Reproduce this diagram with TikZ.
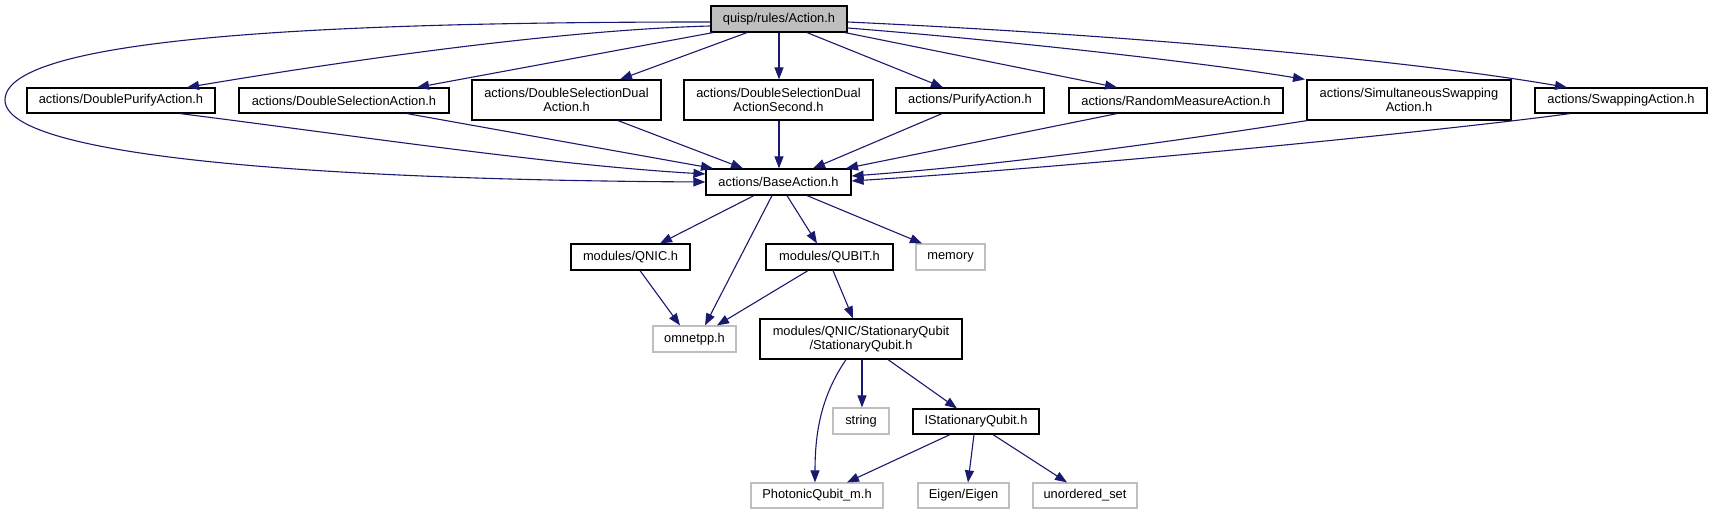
\documentclass[tikz,border=0pt]{standalone}
\usepackage{fontspec}
\setmainfont{Liberation Sans}
\usetikzlibrary{arrows.meta}
\definecolor{edgeblue}{HTML}{191970}
\definecolor{extgray}{HTML}{BFBFBF}
\begin{document}
\begin{tikzpicture}[x=1bp,y=-1bp,
  box/.style={draw=black,line width=1.2bp,rectangle,inner sep=0pt,align=center,
    font=\fontsize{12.9}{14.5}\selectfont},
  extbox/.style={box,draw=extgray},
  wh/.style 2 args={minimum width=#1bp,minimum height=#2bp},
  edge/.style={draw=edgeblue,line width=1.1bp,-{Triangle[length=12bp,width=9bp]}}]
\useasboundingbox[fill=white] (0,0) rectangle (1713,515);
% nodes
\node[box,fill=extgray,wh={136}{26}] (act) at (779,19) {quisp/rules/Action.h};
\node[box,wh={188}{25}] (dpa) at (121,100.5) {actions/DoublePurifyAction.h};
\node[box,wh={210}{25}] (dsa) at (344,100.5) {actions/DoubleSelectionAction.h};
\node[box,wh={189}{40}] (dsda) at (566.5,100) {actions/DoubleSelectionDual\\Action.h};
\node[box,wh={189}{40}] (dsdas) at (778.5,100) {actions/DoubleSelectionDual\\ActionSecond.h};
\node[box,wh={148}{25}] (pur) at (970,100.5) {actions/PurifyAction.h};
\node[box,wh={214}{25}] (rnd) at (1176,100.5) {actions/RandomMeasureAction.h};
\node[box,wh={204}{40}] (sim) at (1409,100) {actions/SimultaneousSwapping\\Action.h};
\node[box,wh={172}{25}] (swp) at (1621,100.5) {actions/SwappingAction.h};
\node[box,wh={145}{26}] (base) at (778.5,182) {actions/BaseAction.h};
\node[box,wh={119}{26}] (qnic) at (630.5,257) {modules/QNIC.h};
\node[box,wh={127}{26}] (qubit) at (829.5,257) {modules/QUBIT.h};
\node[extbox,wh={69}{26}] (mem) at (950.5,257) {memory};
\node[extbox,wh={83}{26}] (omn) at (694.5,339) {omnetpp.h};
\node[box,wh={202}{40}] (sq) at (861,339) {modules/QNIC/StationaryQubit\\/StationaryQubit.h};
\node[extbox,wh={56}{26}] (str) at (861,421) {string};
\node[box,wh={126}{25}] (isq) at (976,421.5) {IStationaryQubit.h};
\node[extbox,wh={132}{25}] (pho) at (817,495.5) {PhotonicQubit\_m.h};
\node[extbox,wh={91}{25}] (eig) at (963.5,495.5) {Eigen/Eigen};
\node[extbox,wh={104}{25}] (uns) at (1085,495.5) {unordered\_set};
% edges from Action.h
\draw[edge] (act.west |- 0,22) .. controls (350,22) and (5,35) .. (5,100)
   .. controls (5,160) and (350,180) .. (base.west |- 0,182);
\draw[edge] (act.west |- 0,26) .. controls (560,30) and (350,60) .. (dpa.north -| 187,0);
\draw[edge] (act.south -| 713,0) -- (dsa.north -| 417,0);
\draw[edge] (act.south -| 747,0) -- (dsda.north -| 620,0);
\draw[edge] (act.south -| 779,0) -- (dsdas.north -| 779,0);
\draw[edge] (act.south -| 807,0) -- (pur.north -| 943,0);
\draw[edge] (act.south -| 845,0) -- (rnd.north -| 1117,0);
\draw[edge] (act.east |- 0,28) .. controls (1000,40) and (1200,62) .. (sim.north -| 1305,0);
\draw[edge] (act.east |- 0,22) .. controls (1150,36) and (1420,62) .. (swp.north -| 1567,0);
% edges to BaseAction
\draw[edge] (dpa.south -| 180,0) .. controls (350,135) and (550,165) .. (base.west |- 0,174);
\draw[edge] (dsa.south -| 407,0) -- (base.north -| 713,0);
\draw[edge] (dsda.south -| 618,0) -- (base.north -| 743,0);
\draw[edge] (dsdas.south -| 779,0) -- (base.north -| 779,0);
\draw[edge] (pur.south -| 942,0) -- (base.north -| 813,0);
\draw[edge] (rnd.south -| 1117,0) -- (base.north -| 846,0);
\draw[edge] (sim.south -| 1307,0) .. controls (1150,145) and (1000,165) .. (base.east |- 0,176);
\draw[edge] (swp.south -| 1570,0) .. controls (1450,130) and (1100,165) .. (base.east |- 0,181);
% lower edges
\draw[edge] (base.south -| 754,0) -- (qnic.north -| 660,0);
\draw[edge] (base.south -| 772,0) -- (omn.north -| 705,0);
\draw[edge] (base.south -| 787,0) -- (qubit.north -| 817,0);
\draw[edge] (base.south -| 807,0) -- (mem.north -| 922,0);
\draw[edge] (qnic.south -| 640,0) -- (omn.north -| 680,0);
\draw[edge] (qubit.south -| 808,0) -- (omn.north -| 717,0);
\draw[edge] (qubit.south -| 833,0) -- (sq.north -| 853,0);
\draw[edge] (sq.south -| 846,0) .. controls (822,395) and (815,430) .. (pho.north -| 815,0);
\draw[edge] (sq.south -| 862,0) -- (str.north -| 862,0);
\draw[edge] (sq.south -| 888,0) -- (isq.north -| 957,0);
\draw[edge] (isq.south -| 950,0) -- (pho.north -| 847,0);
\draw[edge] (isq.south -| 974,0) -- (eig.north -| 968,0);
\draw[edge] (isq.south -| 993,0) -- (uns.north -| 1067,0);
\end{tikzpicture}
\end{document}
